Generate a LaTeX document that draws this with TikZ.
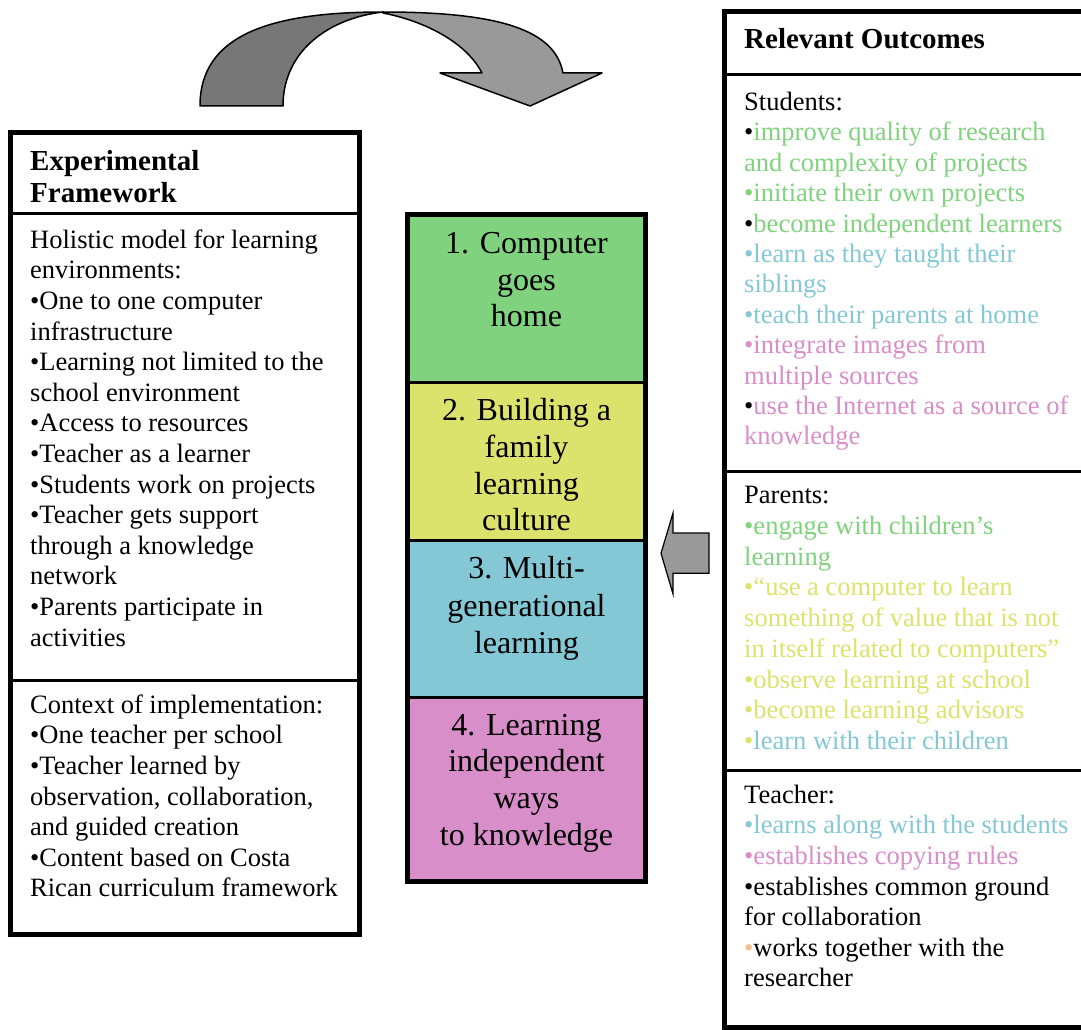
\documentclass[tikz,border=0pt]{standalone}
\usepackage{fontspec}
\setmainfont{Liberation Serif}
\definecolor{cgreen}{RGB}{128,210,126}
\definecolor{cyellow}{RGB}{220,227,108}
\definecolor{cblue}{RGB}{132,200,214}
\definecolor{cpink}{RGB}{216,142,200}
\definecolor{corange}{RGB}{250,190,140}
\definecolor{adark}{RGB}{119,119,119}
\definecolor{alight}{RGB}{153,153,153}
\begin{document}
\begin{tikzpicture}[x=1pt,y=-1pt,
  tx/.style={anchor=base west, inner sep=0pt, font=\fontsize{26.5}{30.6}\selectfont},
  ttl/.style={anchor=base west, inner sep=0pt, font=\fontsize{29}{33}\selectfont\bfseries},
  mid/.style={anchor=base, inner sep=0pt, font=\fontsize{32}{36.7}\selectfont},
  outer/.style={draw=black, line width=5pt},
  divider/.style={draw=black, line width=3pt},
  arrowpart/.style={draw=black, line width=1.5pt, line join=round}]
\useasboundingbox (0,0) rectangle (1081,1030);
\clip (0,0) rectangle (1081,1030);

% ---------- curved arrow ----------
\filldraw[arrowpart, fill=adark]
  (200,106) .. controls (200,35) and (270,12) .. (383,12)
  .. controls (330,18) and (283,50) .. (283,106) -- cycle;
\filldraw[arrowpart, fill=alight]
  (383,12) .. controls (500,12) and (555,30) .. (563,73)
  -- (602,73) -- (530,106) -- (440,73) -- (482,73)
  .. controls (465,40) and (420,20) .. (383,13) -- cycle;

% ---------- left box ----------
\fill[white] (10,132.5) rectangle (359.5,934);
\draw[divider] (10,213) -- (359.5,213);
\draw[divider] (10,680) -- (359.5,680);
\draw[outer] (10,132.5) rectangle (359.5,934);
\node[ttl] (ef1) at (30,170) {Experimental};
\node[ttl] (ef2) at (30,202.7) {Framework};
\foreach \t [count=\k from 0] in {{Holistic model for learning},{environments:},
  {•One to one computer},{infrastructure},{•Learning not limited to the},
  {school environment},{•Access to resources},{•Teacher as a learner},
  {•Students work on projects},{•Teacher gets support},{through a knowledge},
  {network},{•Parents participate in},{activities}}
  \node[tx] (hol\k) at (30,{248.3+30.6*\k}) {\t};
\foreach \t [count=\k from 0] in {{Context of implementation:},{•One teacher per school},
  {•Teacher learned by},{observation, collaboration,},{and guided creation},
  {•Content based on Costa},{Rican curriculum framework}}
  \node[tx] (ctx\k) at (30,{713.3+30.6*\k}) {\t};

% ---------- middle column ----------
\fill[cgreen] (407.5,214.5) rectangle (645.5,382);
\fill[cyellow] (407.5,382) rectangle (645.5,540);
\fill[cblue] (407.5,540) rectangle (645.5,697);
\fill[cpink] (407.5,697) rectangle (645.5,881);
\draw[divider] (407.5,382) -- (645.5,382);
\draw[divider] (407.5,540) -- (645.5,540);
\draw[divider] (407.5,697) -- (645.5,697);
\draw[outer] (407.5,214.5) rectangle (645.5,881);
\node[mid] (s1a) at (526.5,253.3) {1. Computer};
\node[mid] (s1b) at (526.5,290.3) {goes};
\node[mid] (s1c) at (526.5,326.7) {home};
\node[mid] (s2a) at (526.5,420) {2. Building a};
\node[mid] (s2b) at (526.5,457.5) {family};
\node[mid] (s2c) at (526.5,494.5) {learning};
\node[mid] (s2d) at (526.5,530.5) {culture};
\node[mid] (s3a) at (526.5,578.3) {3. Multi-};
\node[mid] (s3b) at (526.5,616.3) {generational};
\node[mid] (s3c) at (526.5,653.3) {learning};
\node[mid] (s4a) at (526.5,735) {4. Learning};
\node[mid] (s4b) at (526.5,771.7) {independent};
\node[mid] (s4c) at (526.5,808.3) {ways};
\node[mid] (s4d) at (526.5,845) {to knowledge};

% ---------- left block arrow ----------
\filldraw[arrowpart, fill=alight, line width=1.2pt, line join=miter]
  (709,533) -- (673,533) -- (673,513) -- (661,553.3) -- (673,594) -- (673,573.3) -- (709,573.3) -- cycle;

% ---------- right box ----------
\fill[white] (724.5,11.5) rectangle (1095,1027.5);
\draw[divider] (724.5,75) -- (1095,75);
\draw[divider] (724.5,471) -- (1095,471);
\draw[divider] (724.5,770) -- (1095,770);
\draw[outer] (724.5,11.5) rectangle (1095,1027.5);
\node[ttl] (ro) at (744,48.3) {Relevant Outcomes};
\foreach \t [count=\k from 0] in {{Students:},
  {•\textcolor{cgreen}{improve quality of research}},
  {\textcolor{cgreen}{and complexity of projects}},
  {\textcolor{cgreen}{•initiate their own projects}},
  {•\textcolor{cgreen}{become independent learners}},
  {\textcolor{cblue}{•learn as they taught their}},
  {\textcolor{cblue}{siblings}},
  {\textcolor{cblue}{•teach their parents at home}},
  {\textcolor{cpink}{•integrate images from}},
  {\textcolor{cpink}{multiple sources}},
  {•\textcolor{cpink}{use the Internet as a source of}},
  {\textcolor{cpink}{knowledge}}}
  \node[tx] (st\k) at (744,{110.5+30.4*\k}) {\t};
\foreach \t [count=\k from 0] in {{Parents:},
  {\textcolor{cgreen}{•engage with children’s}},
  {\textcolor{cgreen}{learning}},
  {\textcolor{cyellow}{•“use a computer to learn}},
  {\textcolor{cyellow}{something of value that is not}},
  {\textcolor{cyellow}{in itself related to computers”}},
  {\textcolor{cyellow}{•observe learning at school}},
  {\textcolor{cyellow}{•become learning advisors}},
  {\textcolor{cyellow}{•}\textcolor{cblue}{learn with their children}}}
  \node[tx] (pa\k) at (744,{503.5+30.75*\k}) {\t};
\foreach \t [count=\k from 0] in {{Teacher:},
  {\textcolor{cblue}{•learns along with the students}},
  {\textcolor{cpink}{•establishes copying rules}},
  {•establishes common ground},
  {for collaboration},
  {\textcolor{corange}{•}works together with the},
  {researcher}}
  \node[tx] (te\k) at (744,{803.3+30.57*\k}) {\t};
\end{tikzpicture}
\end{document}
